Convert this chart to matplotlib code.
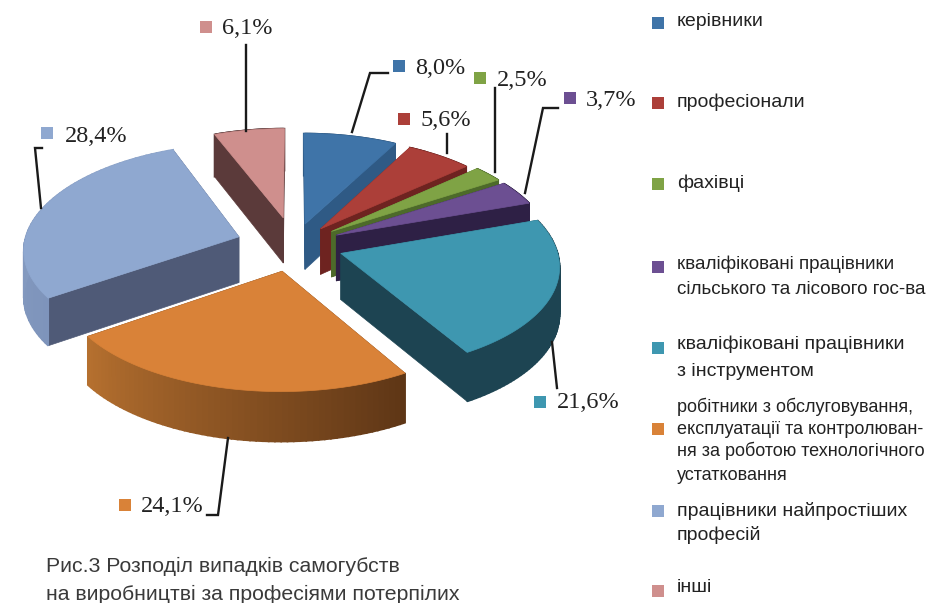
import numpy as np
import matplotlib
matplotlib.use("Agg")
import matplotlib.pyplot as plt
from matplotlib.colors import to_rgb

# share of each profession group, %
values = [8.0, 5.6, 2.5, 3.7, 21.6, 24.1, 28.4, 6.1]
value_labels = ['8,0%', '5,6%', '2,5%', '3,7%', '21,6%', '24,1%', '28,4%', '6,1%']
legend_lines = [
    ['керівники'],
    ['професіонали'],
    ['фахівці'],
    ['кваліфіковані працівники', 'сільського та лісового гос-ва'],
    ['кваліфіковані працівники', 'з інструментом'],
    ['робітники з обслуговування,', 'експлуатації та контролюван-', 'ня за роботою технологічного', 'устатковання'],
    ['працівники найпростіших', 'професій'],
    ['інші'],
]
caption = ['Рис.3 Розподіл випадків самогубств', 'на виробництві за професіями потерпілих']

# styles
explode = [0.21, 0.20, 0.22, 0.22, 0.23, 0.25, 0.27, 0.27]
top_colors = ['#3f74a8', '#ac3f39', '#7fa345', '#6c4f92', '#3e97b0', '#d98238', '#8fa8d0', '#cf8f8d']
wall_colors = ['#2f5a85', '#6e2320', '#4d6a2a', '#2e2045', '#1d4452', '#5e3616', '#4f5a77', '#5b3a3a']
rim_start = ['#2f5a85', '#6e2320', '#4d6a2a', '#2e2045', '#1d4452', '#5e3616', '#7e94bb', '#5b3a3a']
rim_end = ['#2f5a85', '#6e2320', '#4d6a2a', '#2e2045', '#1d4452', '#b5702f', '#8ea4c8', '#5b3a3a']
draw_order = [7, 0, 1, 2, 3, 6, 4, 5]

# x of square, y of square, x of text, y of text
label_pos = [(399, 66, 415, 68), (404, 119, 421, 121), (480, 78, 497, 80), (570, 98, 586, 100),
             (540, 402, 557, 403), (125, 505, 141, 506), (47, 133, 65, 136), (206, 27, 222, 29)]
leaders = [
    [(352, 132), (370, 73), (388, 73)],
    [(447, 153), (447, 134)],
    [(495, 172), (495, 88)],
    [(525, 193), (543, 108), (558, 108)],
    [(552, 342), (557, 388)],
    [(228, 438), (218, 515), (207, 515)],
    [(41, 208), (35, 148), (42, 148)],
    [(246, 131), (246, 45)],
]
legend_marker_y = [23, 103, 184, 267, 348, 429, 511, 591]
legend_text_y = [[22], [102], [183], [264, 289], [344, 372], [407, 430, 451, 476], [511, 535], [587]]
legend_sizes = [14, 14, 14, 13.6, 14, 13, 14, 14]


def project(u, v):
    # tilted disc to picture pixels, nearer part a bit larger
    x = 294 + 215 * u * (1 - 0.11 * v)
    y = 245 - (105 * v - 10.3 * v ** 2)
    return x, y


def depth(v):
    return 46 * (1 - 0.07 * v)


fig = plt.figure(figsize=(9.31, 6.03), dpi=100)
ax = fig.add_axes([0, 0, 1, 1])
ax.set_xlim(0, 931)
ax.set_ylim(603, 0)
ax.axis('off')

edges = np.cumsum([0] + values) / sum(values) * 2 * np.pi

for i in draw_order:
    a0, a1 = edges[i], edges[i + 1]
    mid = (a0 + a1) / 2
    u0, v0 = explode[i] * np.sin(mid), explode[i] * np.cos(mid)
    t = np.linspace(a0, a1, 60)
    u = u0 + np.sin(t)
    v = v0 + np.cos(t)
    x, y = project(u, v)
    tx, ty = project(u0, v0)
    td = depth(v0)

    # radial walls
    for k in [0, -1]:
        ax.fill([tx, x[k], x[k], tx], [ty, y[k], y[k] + depth(v[k]), ty + td],
                color=wall_colors[i], lw=0.5, zorder=1)
    # outer rim, shaded along the arc
    c0, c1 = np.array(to_rgb(rim_start[i])), np.array(to_rgb(rim_end[i]))
    for k in range(len(t) - 1):
        c = c0 + (c1 - c0) * k / (len(t) - 2)
        ax.fill([x[k], x[k + 1], x[k + 1], x[k]],
                [y[k], y[k + 1], y[k + 1] + depth(v[k + 1]), y[k] + depth(v[k])],
                color=c, lw=1.2, zorder=1)
    ax.fill(np.r_[tx, x], np.r_[ty, y], color=top_colors[i], lw=0.5, zorder=1)

for pts in leaders:
    ax.plot([p[0] for p in pts], [p[1] for p in pts], color='#1a1a1a', lw=1.7, zorder=3,
            solid_joinstyle='miter')

for i, (mx, my, tx, ty) in enumerate(label_pos):
    ax.plot(mx, my, 's', color=top_colors[i], ms=8.5, mew=0, zorder=4)
    ax.text(tx, ty, value_labels[i], family='Liberation Serif', fontsize=17.5, color='#222222',
            va='center', ha='left', zorder=4)

for i, lines in enumerate(legend_lines):
    ax.plot(658, legend_marker_y[i], 's', color=top_colors[i], ms=8.5, mew=0, zorder=4)
    for line, ty in zip(lines, legend_text_y[i]):
        ax.text(677, ty, line, family='Liberation Sans', fontsize=legend_sizes[i], color='#222222',
                va='center', ha='left', zorder=4)

for line, ty in zip(caption, [566, 594]):
    ax.text(46, ty, line, family='Liberation Sans', fontsize=15.3, color='#3a3a3a',
            va='center', ha='left', zorder=4)

fig.savefig('out.png', dpi=100)
